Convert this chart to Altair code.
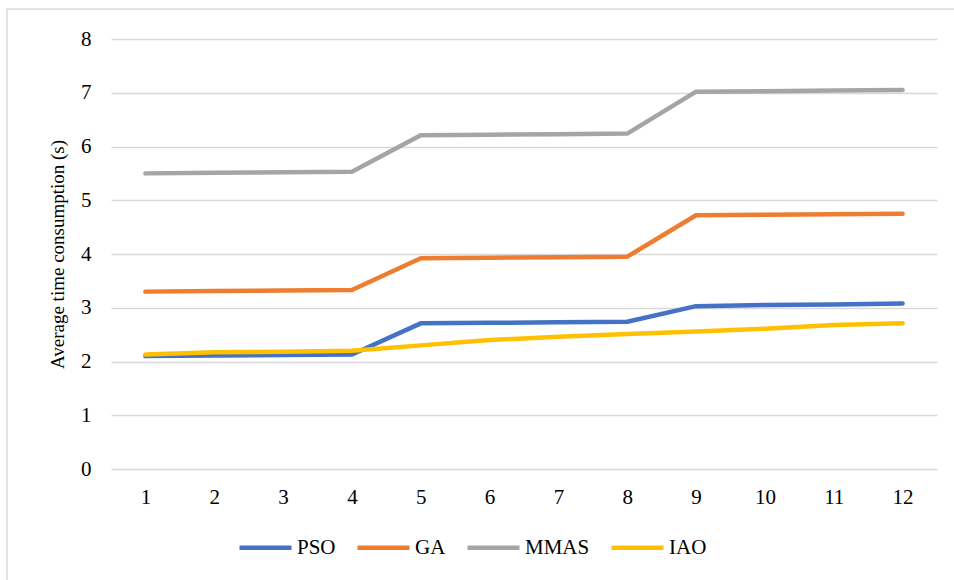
import altair as alt
import pandas as pd

# Average time consumption (s) per run for each algorithm
runs = list(range(1, 13))
pso = [2.10, 2.11, 2.12, 2.13, 2.71, 2.72, 2.73, 2.74, 3.03, 3.05, 3.06, 3.08]
ga = [3.30, 3.31, 3.32, 3.33, 3.92, 3.93, 3.94, 3.95, 4.72, 4.73, 4.74, 4.75]
mmas = [5.50, 5.51, 5.52, 5.53, 6.21, 6.22, 6.23, 6.24, 7.02, 7.03, 7.04, 7.05]
iao = [2.13, 2.17, 2.18, 2.20, 2.30, 2.40, 2.46, 2.51, 2.56, 2.61, 2.68, 2.71]

series_names = ["PSO", "GA", "MMAS", "IAO"]
series_colors = ["#4472C4", "#ED7D31", "#A5A5A5", "#FFC000"]

rows = []
for name, vals in zip(series_names, [pso, ga, mmas, iao]):
    for r, v in zip(runs, vals):
        rows.append({"run": r, "time": v, "algorithm": name})
df = pd.DataFrame(rows)

FONT = "Liberation Serif"

lines = alt.Chart(df).mark_line(strokeWidth=4.5, strokeCap="round", strokeJoin="round").encode(
    x=alt.X(
        "run:O",
        scale=alt.Scale(type="point", padding=0.5),
        axis=alt.Axis(
            title=None, labelAngle=0, ticks=False, domain=False, grid=False,
            labelPadding=17, labelFontSize=21, labelFont=FONT, labelColor="#000000",
        ),
    ),
    y=alt.Y(
        "time:Q",
        scale=alt.Scale(domain=[0, 8], nice=False),
        axis=alt.Axis(
            values=list(range(0, 9)), ticks=False, domain=False,
            gridColor="#d9d9d9", gridWidth=1.5,
            labelPadding=20, labelFontSize=21, labelFont=FONT, labelColor="#000000",
            title="Average time consumption (s)", titleFont=FONT, titleFontSize=19,
            titleFontWeight="normal", titleColor="#000000",
            titleX=-54, titleY=215, titleAngle=-90, titleAlign="center", titleBaseline="middle",
        ),
    ),
    color=alt.Color(
        "algorithm:N",
        sort=series_names,
        scale=alt.Scale(domain=series_names, range=series_colors),
        legend=alt.Legend(
            title=None, orient="none", direction="horizontal",
            legendX=126, legendY=480, padding=0,
            symbolType="stroke", symbolSize=2704, symbolStrokeWidth=4.5,
            labelFont=FONT, labelFontSize=21, labelColor="#000000",
            labelOffset=3, columnPadding=12,
        ),
    ),
    order=alt.Order("algorithm_rank:Q"),
).transform_calculate(
    algorithm_rank="indexof(['PSO','GA','MMAS','IAO'], datum.algorithm)"
)

# Light outer frame around the chart area
frame = alt.Chart(pd.DataFrame({"f": [0]})).mark_rect(
    fill=None, stroke="#d9d9d9", strokeWidth=1.5, clip=False
).encode(
    x=alt.value(-104), x2=alt.value(860),
    y=alt.value(-30), y2=alt.value(560),
)

chart = alt.layer(frame, lines).properties(
    width=826, height=430,
    autosize=alt.AutoSizeParams(type="none"),
    padding={"left": 111, "top": 39, "right": 17, "bottom": 111},
    background="#ffffff",
).configure_view(stroke=None)

chart.save("out.html", embed_options={"renderer": "svg", "actions": False})
